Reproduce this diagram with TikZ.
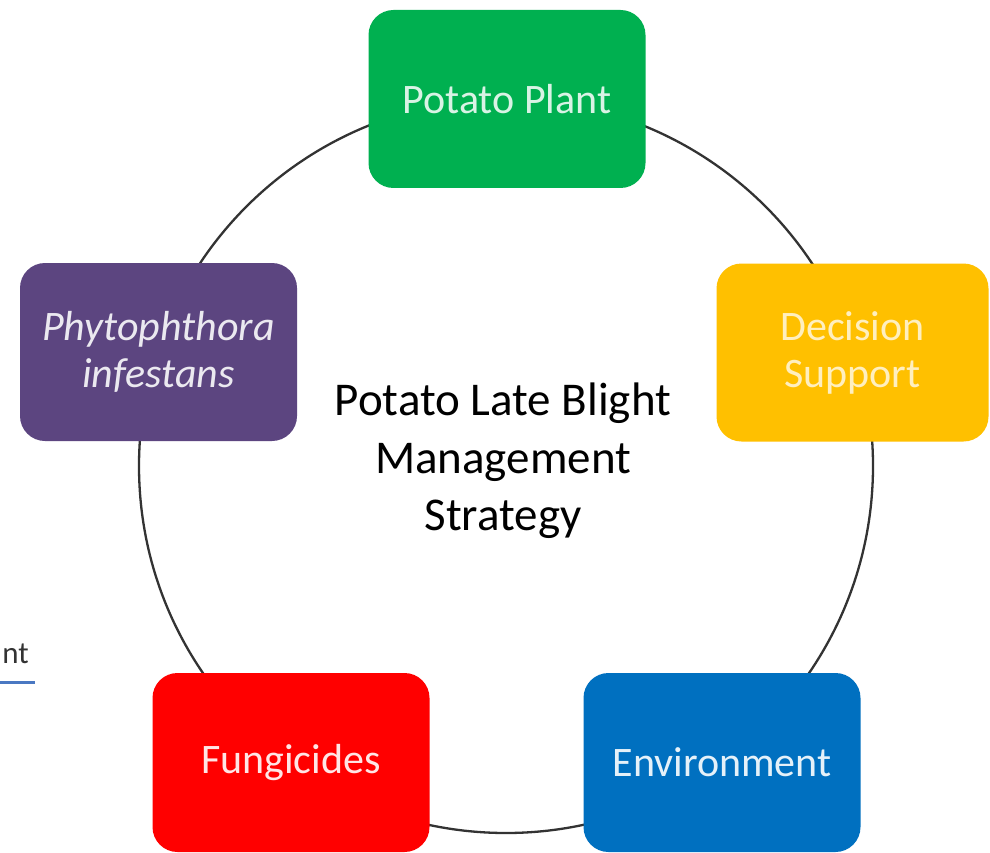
\documentclass[tikz,border=0pt]{standalone}
\usepackage{fontspec}
\setmainfont{Carlito}
\definecolor{cgreen}{HTML}{00B050}
\definecolor{cyellow}{HTML}{FFC000}
\definecolor{cpurple}{HTML}{5C4580}
\definecolor{cred}{HTML}{FF0000}
\definecolor{cblue}{HTML}{0070C0}
\definecolor{cline}{HTML}{333333}
\definecolor{cunder}{HTML}{4A78C2}
\tikzset{
  box/.style={rounded corners=25pt, minimum width=277pt, minimum height=178pt,
    inner sep=0pt, align=center, font=\fontsize{42}{47}\selectfont},
  ring/.style={draw=cline, line width=2.3pt}
}
\begin{document}
\begin{tikzpicture}[x=1pt,y=-1pt]
\useasboundingbox[fill=white] (0,0) rectangle (990,853);
\coordinate (c) at (506,466);
\draw[ring] (c) circle[radius=367pt];
\node[box, fill=cgreen, text=white!85!cgreen] (plant) at (507,99) {Potato Plant};
\node[box, fill=cyellow, text=white!75!cyellow, minimum width=272pt] (decision) at (852.5,352.5) {Decision\\Support};
\node[box, fill=cpurple, text=white!88!cpurple] (phyto) at (158.5,352) {\itshape Phytophthora\\\itshape infestans};
\node[box, fill=cred, text=white!90!cred, minimum height=179pt] (fung) at (291,762.5) {Fungicides};
\node[box, fill=cblue, text=white!90!cblue, minimum height=179pt] (env) at (722,762.5) {Environment};
\node[align=center, font=\fontsize{47}{57.5}\selectfont] (title) at (503,461) {Potato Late Blight\\Management\\Strategy};
\node[anchor=base east, inner sep=0pt, text=black!80, font=\fontsize{31}{36}\selectfont] (frag) at (29,663) {nt};
\coordinate (u1) at (0,682);
\coordinate (u2) at (35,682);
\draw[cunder, line width=3pt] (u1) -- (u2);
\end{tikzpicture}
\end{document}
